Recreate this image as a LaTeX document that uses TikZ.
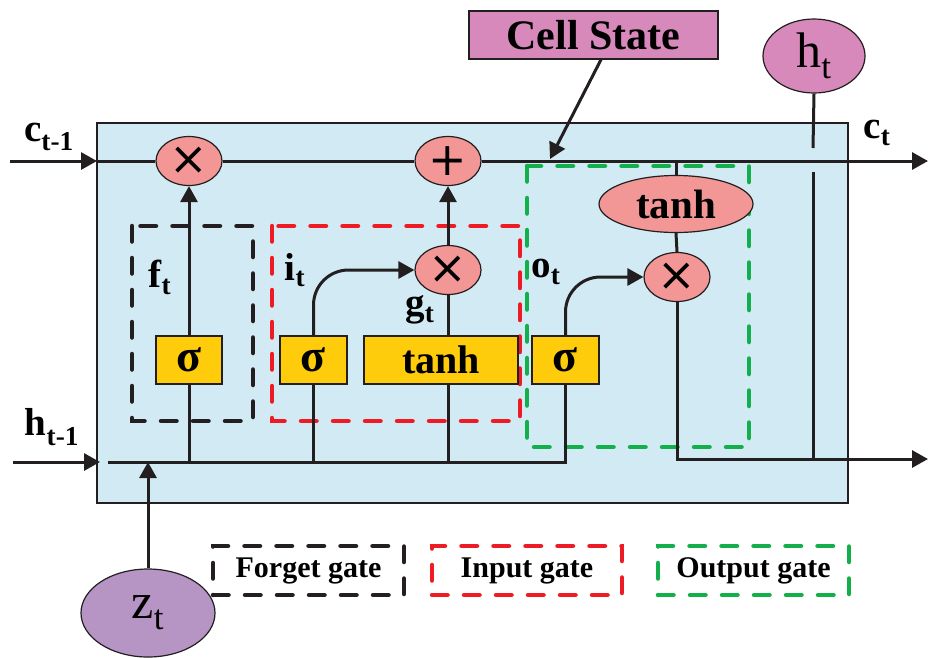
\documentclass[tikz,border=0pt]{standalone}
\usepackage{fontspec}
\setmainfont{Liberation Serif}
\newfontfamily\symfont{DejaVu Sans}
\usetikzlibrary{arrows.meta,shapes.geometric}
\definecolor{bgblue}{RGB}{210,234,243}
\definecolor{pinkc}{RGB}{242,150,150}
\definecolor{yellowc}{RGB}{254,204,10}
\definecolor{purplec}{RGB}{214,137,186}
\definecolor{zc}{RGB}{182,148,196}
\definecolor{redd}{RGB}{237,28,36}
\definecolor{greend}{RGB}{18,175,75}
\definecolor{linec}{RGB}{35,31,32}
\begin{document}
\begin{tikzpicture}[x=1pt,y=-1pt,
  conn/.style={line width=3pt, draw=linec},
  arr/.style={conn, -{Triangle[length=16pt,width=17pt]}},
  opnode/.style={ellipse, draw=linec, line width=1.2pt, fill=pinkc, minimum width=66pt, minimum height=49pt, inner sep=0pt, font=\symfont\fontsize{46}{48}\selectfont},
  gatebox/.style={draw=linec, line width=1.2pt, fill=yellowc, minimum width=67pt, minimum height=48pt, inner sep=0pt, font=\fontsize{40}{42}\selectfont\bfseries},
  lbl/.style={font=\fontsize{39}{41}\selectfont\bfseries, inner sep=0pt},
  dashbox/.style={line width=4.5pt, dash pattern=on 15.5pt off 16.5pt, line cap=round},
  legend/.style={dashbox, minimum width=191pt, minimum height=49pt, inner sep=0pt, font=\fontsize{30}{32}\selectfont\bfseries}
]
\useasboundingbox (0,0) rectangle (928,657);
% background cell
\path[fill=bgblue, draw=linec, line width=1.2pt] (97,123) rectangle (848,503);
% gate regions
\draw[dashbox, draw=linec] (132,226) rectangle (253,421);
\draw[dashbox, draw=redd] (272,226) rectangle (520,421);
\draw[dashbox, draw=greend] (527,166) rectangle (749,447);
% nodes
\node[opnode] (m1) at (189,161) {×};
\node[opnode] (plus) at (448,161) {+};
\node[opnode] (m2) at (448,270) {×};
\node[opnode] (m3) at (677,277) {×};
\node[opnode, minimum width=154pt, minimum height=57pt, font=\fontsize{41}{43}\selectfont\bfseries] (tanhc) at (676,204) {tanh};
\node[gatebox, minimum width=66pt] (s1) at (189,360) {\fontsize{46}{48}\selectfont σ};
\node[gatebox] (s2) at (313.5,360) {\fontsize{46}{48}\selectfont σ};
\node[gatebox, minimum width=154pt] (tb) at (441,360) {tanh};
\node[gatebox] (s3) at (565.5,360) {\fontsize{46}{48}\selectfont σ};
\node[ellipse, draw=linec, line width=1.2pt, fill=purplec, minimum width=102pt, minimum height=74pt, inner sep=0pt, font=\fontsize{50}{52}\selectfont] (ht) at (814,56) {h\textsubscript{t}};
\node[draw=linec, line width=1.2pt, fill=purplec, minimum width=249pt, minimum height=48pt, inner sep=0pt, font=\fontsize{42}{44}\selectfont\bfseries] (cs) at (593.5,35) {Cell State};
\node[ellipse, draw=linec, line width=1.2pt, fill=zc, minimum width=134pt, minimum height=88pt, inner sep=0pt, font=\fontsize{50}{52}\selectfont] (zt) at (148,613) {z\textsubscript{t}};
% labels
\node[lbl] (lc0) at (49,137) {c\textsubscript{t-1}};
\node[lbl] (lh0) at (52,427) {h\textsubscript{t-1}};
\node[lbl] (lc1) at (877,133) {c\textsubscript{t}};
\node[lbl] (lf) at (160,277) {f\textsubscript{t}};
\node[lbl] (li) at (295,270) {i\textsubscript{t}};
\node[lbl] (lg) at (420,310) {g\textsubscript{t}};
\node[lbl] (lo) at (546,272) {o\textsubscript{t}};
% legend
\node[legend, draw=linec] (lgf) at (308.5,570.5) {Forget gate};
\node[legend, draw=redd, minimum width=190pt] (lgi) at (527,570.5) {Input gate};
\node[legend, draw=greend] (lgo) at (753.5,570.5) {Output gate};
% coordinates
\coordinate (cin) at (10,161);
\coordinate (cboxl) at (97,161);
\coordinate (cout) at (928,161);
\coordinate (hin) at (13,462);
\coordinate (hboxl) at (100,462);
\coordinate (hs) at (108,462);
\coordinate (hout) at (928,459);
\coordinate (htop) at (813,172);
\coordinate (hgap) at (813,148);
\coordinate (csp) at (550,159);
% cell state line
\draw[arr] (cin) -- (cboxl);
\draw[conn] (cboxl) -- (m1.west);
\draw[conn] (m1.east) -- (plus.west);
\draw[arr] (plus.east) -- (cout);
% forget gate
\draw[arr] (s1.north) -- (m1.south);
% input gate
\draw[arr, rounded corners=35pt] (s2.north) |- (m2.west);
\draw[conn] (m2.south |- tb.north) -- (m2.south);
\draw[arr] (m2.north) -- (plus.south);
% output gate
\draw[conn] (tanhc.north |- cout) -- (tanhc.north);
\draw[conn] (tanhc.south) -- (m3.north);
\draw[arr, rounded corners=35pt] (s3.north) |- (m3.west);
% hidden input line
\draw[arr] (hin) -- (hboxl);
\draw[conn] (hs) -| (s3.south);
\draw[conn] (s1.south) -- (s1.south |- hs);
\draw[conn] (s2.south) -- (s2.south |- hs);
\draw[conn] (m2.south |- tb.south) -- (m2.south |- hs);
\draw[arr] (zt.north) -- (zt.north |- hs);
% output
\draw[arr] (m3.south) |- (hout);
\draw[conn] (htop) -- (htop |- hout);
\draw[conn] (ht.south) -- (hgap);
\draw[arr] ([xshift=7.5pt]cs.south) -- (csp);
\end{tikzpicture}
\end{document}
